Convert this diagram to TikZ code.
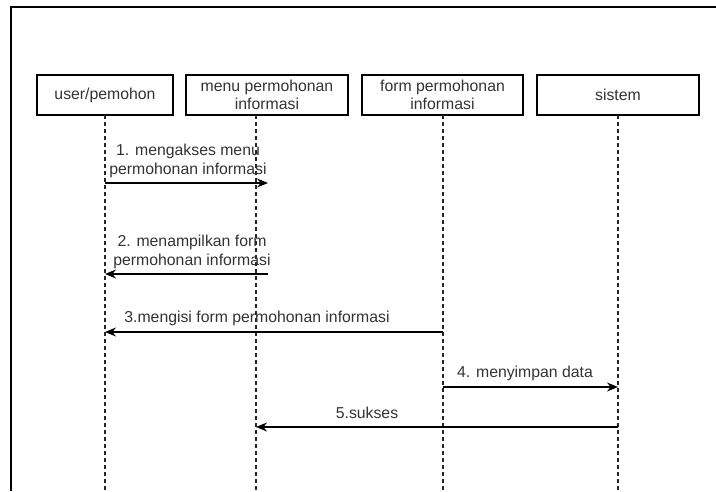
\documentclass[tikz,border=0pt]{standalone}
\usepackage{fontspec}
\setmainfont{Liberation Sans}
\usetikzlibrary{arrows.meta}
\definecolor{ink}{HTML}{333333}
\begin{document}
\begin{tikzpicture}[x=1pt,y=-1pt,
  actor/.style={draw=black,line width=1.3pt,minimum width=162pt,minimum height=40pt,
    inner sep=0pt,align=center,text=ink,font=\fontsize{15.8}{18}\selectfont},
  lifeline/.style={draw=black!85,line width=1.2pt,dash pattern=on 4pt off 3pt},
  msg/.style={draw=black,line width=1.4pt,-{Stealth[length=11pt,width=9pt]}},
  lbl/.style={text=ink,align=center,inner sep=0pt,font=\fontsize{15.8}{18.5}\selectfont}]
  \useasboundingbox (0,0) rectangle (716,491);
  % outer frame (top and left edges only)
  \draw[line width=1.4pt] (11,491) -- (11,7) -- (716,7);
  % participants
  \node[actor,minimum width=136pt] (user) at (105,95) {user/pemohon};
  \node[actor] (menu) at (267,95) {menu permohonan\\informasi};
  \node[actor,minimum width=161pt] (form) at (442.5,95) {form permohonan\\informasi};
  \node[actor] (sis) at (618,95) {sistem};
  % lifeline ends
  \coordinate (uTop) at (105,115);  \coordinate (uBot) at (105,491);
  \coordinate (mTop) at (256,115);  \coordinate (mBot) at (256,491);
  \coordinate (fTop) at (443,115);  \coordinate (fBot) at (443,491);
  \coordinate (sTop) at (618,115);  \coordinate (sBot) at (618,491);
  \draw[lifeline] (uTop) -- (uBot);
  \draw[lifeline] (mTop) -- (mBot);
  \draw[lifeline] (fTop) -- (fBot);
  \draw[lifeline] (sTop) -- (sBot);
  % message anchors
  \coordinate (m1a) at (105,183); \coordinate (m1b) at (268,183);
  \coordinate (m2a) at (268,274); \coordinate (m2b) at (105,274);
  \coordinate (m3a) at (443,332); \coordinate (m3b) at (105,332);
  \coordinate (m4a) at (443,387); \coordinate (m4b) at (618,387);
  \coordinate (m5a) at (618,427); \coordinate (m5b) at (256,427);
  % messages
  \draw[msg] (m1a) -- (m1b);
  \node[lbl] (l1) at (188,161) {1. mengakses menu\\permohonan informasi};
  \draw[msg] (m2a) -- (m2b);
  \node[lbl] (l2) at (192,252) {2. menampilkan form\\permohonan informasi};
  \draw[msg] (m3a) -- (m3b);
  \node[lbl] (l3) at (257,318) {3.mengisi form permohonan informasi};
  \draw[msg] (m4a) -- (m4b);
  \node[lbl] (l4) at (525,373) {4. menyimpan data};
  \draw[msg] (m5a) -- (m5b);
  \node[lbl] (l5) at (367,413) {5.sukses};
\end{tikzpicture}
\end{document}
